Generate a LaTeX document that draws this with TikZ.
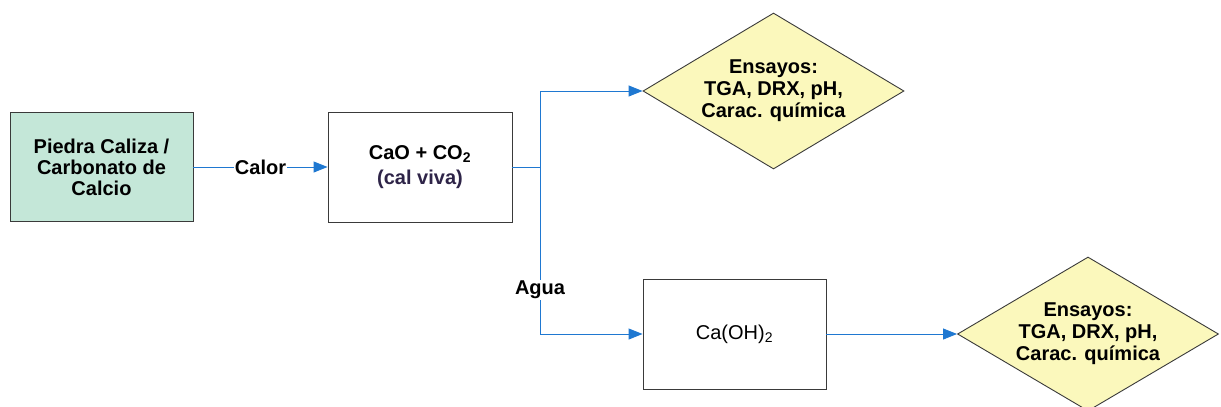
\documentclass[tikz,border=0pt]{standalone}
\usepackage{fontspec}
\setmainfont{Liberation Sans}
\usetikzlibrary{arrows.meta,positioning,shapes.geometric}
\definecolor{cgreen}{HTML}{C4E7D8}
\definecolor{cyellow}{HTML}{FBF8BC}
\definecolor{cblue}{HTML}{1F78D1}
\definecolor{cgray}{HTML}{3A3A3A}
\definecolor{cpurple}{HTML}{2E2448}
\tikzset{
  box/.style={draw=cgray,fill=white,line width=0.9pt,align=center,font=\fontsize{20}{21}\selectfont\bfseries,minimum width=183pt,minimum height=109pt,inner sep=2pt},
  dia/.style={diamond,aspect=1.67,draw=cgray,fill=cyellow,line width=0.9pt,align=center,font=\fontsize{20}{22}\selectfont\bfseries,minimum width=261pt,minimum height=156pt,inner sep=0pt},
  arr/.style={-{Triangle[length=14pt,width=11pt]},line width=1pt,draw=cblue},
  flo/.style={line width=1pt,draw=cblue},
  lbl/.style={font=\fontsize{20}{22}\selectfont\bfseries,fill=white,inner sep=1pt},
}

\begin{document}
\begin{tikzpicture}[x=1pt,y=-1pt]
  \useasboundingbox (0,0) rectangle (1221,407);
  % cajas
  \node[box,fill=cgreen] (caliza) at (101.5,167) {Piedra Caliza /\\Carbonato de\\Calcio};
  \node[box,minimum width=184pt,minimum height=110pt,font=\fontsize{20}{25}\selectfont\bfseries] (viva) at (420,167) {CaO + CO\textsubscript{2}\\\textcolor{cpurple}{(cal viva)}};
  \node[box,minimum height=110pt,font=\fontsize{20}{22}\selectfont] (hidr) at (734.5,334) {Ca(OH)\textsubscript{2}};
  % ensayos
  \node[dia] (ens1) at (773.5,91) {Ensayos:\\TGA, DRX, pH,\\Carac. química};
  \node[dia,minimum height=154pt] (ens2) at (1088,334) {Ensayos:\\TGA, DRX, pH,\\Carac. química};
  % flechas
  \coordinate (jn) at (540,167);
  \draw[arr] (caliza) -- node[lbl]{Calor} (viva);
  \draw[flo] (viva) -- (jn);
  \draw[arr] (jn) |- (ens1.west);
  \draw[arr] (jn) |- (hidr.west);
  \node[lbl] (agua) at (540,290) {Agua};
  \draw[arr] (hidr) -- (ens2);
\end{tikzpicture}
\end{document}
